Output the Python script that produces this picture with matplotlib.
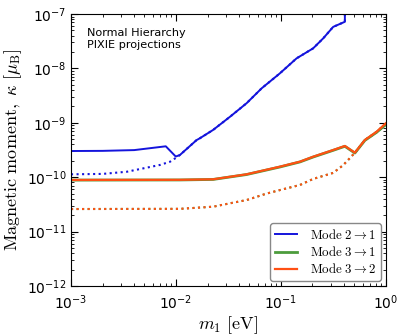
import numpy as np
import matplotlib
matplotlib.use('Agg')
import matplotlib.pyplot as plt

plt.rcParams['mathtext.fontset'] = 'cm'
plt.rcParams['font.family'] = 'DejaVu Sans'

# mode 2->1, solid and dotted
m21 = [1e-3, 0.002, 0.004, 0.008, 0.00995, 0.0109, 0.0157, 0.0169, 0.0226, 0.0327, 0.0471,
       0.0655, 0.0977, 0.141, 0.203, 0.253, 0.315, 0.407, 0.407]
k21 = [3.03e-10, 3.05e-10, 3.15e-10, 3.7e-10, 2.4e-10, 2.56e-10, 4.8e-10, 5.2e-10, 7.4e-10,
       1.29e-9, 2.29e-9, 4.3e-9, 8.1e-9, 1.53e-8, 2.34e-8, 3.57e-8, 5.8e-8, 7.2e-8, 1e-6]
m21d = [1e-3, 0.002, 0.0034, 0.00704, 0.0088, 0.0101]
k21d = [1.13e-10, 1.15e-10, 1.26e-10, 1.68e-10, 1.93e-10, 2.3e-10]

# modes 3->1 and 3->2, solid
m3 = [1e-3, 0.0109, 0.0226, 0.0471, 0.0977, 0.152, 0.203, 0.315, 0.407, 0.507, 0.631, 0.817, 1.0]
k31 = [8.85e-11, 8.9e-11, 9.1e-11, 1.12e-10, 1.54e-10, 1.91e-10, 2.35e-10, 3.12e-10, 3.7e-10,
       2.78e-10, 4.75e-10, 6.7e-10, 9.3e-10]
k32 = [8.9e-11, 8.95e-11, 9.15e-11, 1.13e-10, 1.56e-10, 1.93e-10, 2.38e-10, 3.16e-10, 3.75e-10,
       2.82e-10, 4.83e-10, 6.85e-10, 9.8e-10]

# modes 3->1 and 3->2, dotted
m3d = [1e-3, 0.0109, 0.0226, 0.035, 0.0471, 0.073, 0.0977, 0.152, 0.203, 0.315, 0.39, 0.45, 0.507]
k3d = [2.6e-11, 2.62e-11, 2.87e-11, 3.4e-11, 3.8e-11, 5.0e-11, 5.8e-11, 7.2e-11, 9.3e-11,
       1.2e-10, 1.65e-10, 2.2e-10, 2.82e-10]

blue = '#1414dc'
green = '#4c9c3c'
orange = '#ff5014'

fig = plt.figure(figsize=(4.07, 3.36), dpi=100)
ax = fig.add_axes([0.1745, 0.1488, 0.7735, 0.8095])

ax.plot(m21d + m21[5:], k21d + k21[5:], ':', color=blue, lw=1.5)
ax.plot(m3d + m3[9:], k3d + k31[9:], ':', color=green, lw=1.5)
ax.plot(m3d + m3[9:], k3d + k32[9:], ':', color=orange, lw=1.5)
ax.plot(m21, k21, '-', color=blue, lw=1.4, label=r'$\mathrm{Mode}\ 2\rightarrow 1$')
ax.plot(m3, k31, '-', color=green, lw=2.0, label=r'$\mathrm{Mode}\ 3\rightarrow 1$')
ax.plot(m3, k32, '-', color=orange, lw=1.6, label=r'$\mathrm{Mode}\ 3\rightarrow 2$')

ax.set_xscale('log')
ax.set_yscale('log')
ax.set_xlim(1e-3, 1)
ax.set_ylim(1e-12, 1e-7)
ax.tick_params(which='both', direction='in', top=True, right=True, labelsize=10)
ax.tick_params(which='major', length=5)
ax.tick_params(which='minor', length=2.5)
ax.tick_params(axis='x', pad=5)

ax.set_xlabel(r'$m_1\ [\mathrm{eV}]$', fontsize=13, labelpad=2)
ax.set_ylabel(r'$\mathrm{Magnetic\ moment,}\ \kappa\ [\mu_\mathrm{B}]$', fontsize=13)
ax.yaxis.set_label_coords(-0.15, 0.5)

ax.text(0.05, 0.95, 'Normal Hierarchy\nPIXIE projections', transform=ax.transAxes,
        fontsize=8.1, va='top', ha='left', linespacing=1.3)

leg = ax.legend(loc='lower right', fontsize=9.3, fancybox=True, framealpha=1,
                handlelength=1.7, borderpad=0.35, labelspacing=0.25, handletextpad=1.0,
                borderaxespad=0.4)
leg.get_frame().set_edgecolor('#888888')

fig.savefig('out.png', dpi=100)
